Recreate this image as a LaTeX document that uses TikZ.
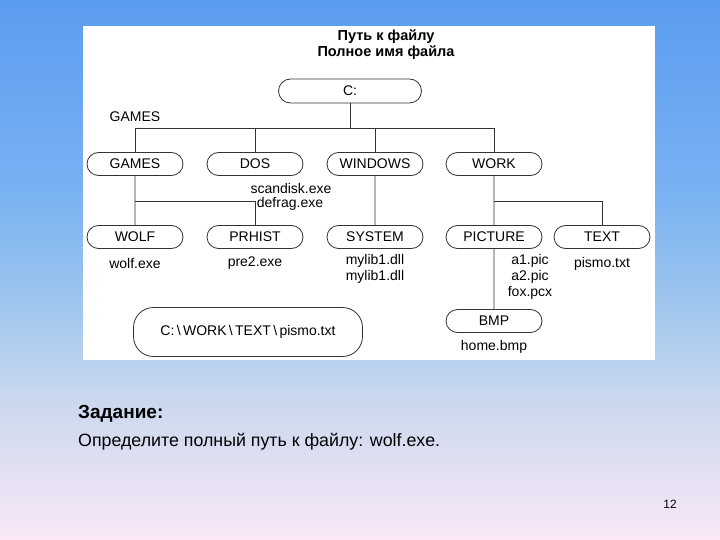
\documentclass[tikz,border=0pt]{standalone}
\usepackage{fontspec}
\setmainfont{Liberation Sans}
\usetikzlibrary{shapes.misc}
\definecolor{c0}{RGB}{250,232,248}
\definecolor{c1}{RGB}{228,224,242}
\definecolor{c2}{RGB}{202,216,238}
\definecolor{c3}{RGB}{158,198,238}
\definecolor{c4}{RGB}{122,178,242}
\definecolor{c5}{RGB}{90,156,240}
\pgfdeclareverticalshading{slide}{100bp}{color(0bp)=(c0); color(25bp)=(c0); color(31bp)=(c1); color(38bp)=(c2); color(47bp)=(c3); color(57bp)=(c4); color(75bp)=(c5); color(100bp)=(c5)}
\begin{document}
\begin{tikzpicture}
    [x=1pt,y=-1pt,
     dir/.style={rounded rectangle,draw=black!80,line width=0.8pt,minimum width=96pt,minimum height=23pt,inner sep=0pt,font=\fontsize{14}{15}\selectfont},
     file/.style={inner sep=0pt,font=\fontsize{14}{15}\selectfont},
     link/.style={draw=black!80,line width=0.8pt}]
    \shade[shading=slide] (0,0) rectangle (720,540);
    \fill[white] (83,26) rectangle (655,360);
    \node[font=\bfseries\fontsize{14.5}{16}\selectfont,align=center] (t) at (386,45) {Путь к файлу\\Полное имя файла};
    \node[dir,minimum width=143pt,minimum height=24pt] (c) at (350,91) {C:};
    \node[file] (gl) at (135,117) {GAMES};
    \node[dir] (games) at (135,164) {GAMES};
    \node[dir] (dos) at (255,164) {DOS};
    \node[dir] (win) at (375,164) {WINDOWS};
    \node[dir] (work) at (494,164) {WORK};
    \node[dir] (wolf) at (135,237) {WOLF};
    \node[dir] (prhist) at (255,237) {PRHIST};
    \node[dir] (sys) at (375,237) {SYSTEM};
    \node[dir] (pic) at (494,237) {PICTURE};
    \node[dir] (text) at (602,237) {TEXT};
    \node[dir] (bmp) at (494,321) {BMP};
    \node[file] (dos1) at (291,188) {scandisk.exe};
    \node[file] (dos2) at (290,204) {defrag.exe};
    \node[file] (wolf1) at (135,263) {wolf.exe};
    \node[file] (prhist1) at (255,263) {pre2.exe};
    \node[file] (sys1) at (375,261) {mylib1.dll};
    \node[file] (sys2) at (375,277) {mylib1.dll};
    \node[file] (pic1) at (530,261) {a1.pic};
    \node[file] (pic2) at (530,277) {a2.pic};
    \node[file] (pic3) at (530,293) {fox.pcx};
    \node[file] (text1) at (602,264) {pismo.txt};
    \node[file] (bmp1) at (494,347) {home.bmp};
    \node[draw=black!80,line width=0.8pt,rounded corners=20pt,minimum width=229pt,minimum height=49pt,font=\fontsize{14}{15}\selectfont] (path) at (248,332) {C:\,\textbackslash\,WORK\,\textbackslash\,TEXT\,\textbackslash\,pismo.txt};
    \coordinate (b) at (350,128);
    \coordinate (g) at (135,201);
    \coordinate (w) at (494,201);
    \draw[link] (c) -- (b);
    \draw[link] (games) |- (b);
    \draw[link] (dos) |- (b);
    \draw[link] (win) |- (b);
    \draw[link] (work) |- (b);
    \draw[link] (games) -- (wolf);
    \draw[link] (g) -| (prhist);
    \draw[link] (win) -- (sys);
    \draw[link] (work) -- (pic);
    \draw[link] (w) -| (text);
    \draw[link] (pic) -- (bmp);
    \node[anchor=base west,inner sep=0pt,font=\bfseries\fontsize{19}{20}\selectfont] (task) at (78,418) {Задание:};
    \node[anchor=base west,inner sep=0pt,font=\fontsize{17.8}{20}\selectfont] (q) at (78,446) {Определите полный путь к файлу: wolf.exe.};
    \node[font=\fontsize{12}{14}\selectfont] (n) at (670,504) {12};
\end{tikzpicture}
\end{document}
